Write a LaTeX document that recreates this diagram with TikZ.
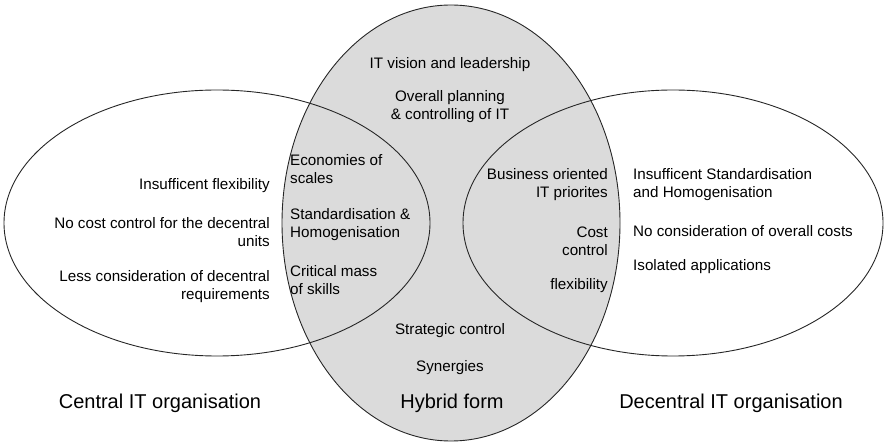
\documentclass[tikz,border=0pt]{standalone}
\usepackage{fontspec}
\setmainfont{Liberation Sans}
\begin{document}
\begin{tikzpicture}[x=1pt,y=-1pt,
  txt/.style={inner sep=0pt,font=\fontsize{15.2}{18}\selectfont},
  big/.style={inner sep=0pt,font=\fontsize{20}{24}\selectfont},
  outline/.style={draw=black!85,line width=0.9pt}]
\useasboundingbox (0,0) rectangle (886,443);
\fill[gray!28] (451,223) ellipse [x radius=169, y radius=218];
\draw[outline] (217,223) ellipse [x radius=213, y radius=133];
\draw[outline] (673,223) ellipse [x radius=210, y radius=133];
\draw[outline] (451,223) ellipse [x radius=169, y radius=218];

\node[txt] (vis) at (450,65) {IT vision and leadership};
\node[txt,align=center] (plan) at (450,107) {Overall planning\\\& controlling of IT};
\node[txt,anchor=west,align=left] (eco) at (290,169) {Economies of\\scales};
\node[txt,anchor=west,align=left] (std) at (290,225) {Standardisation \&\\Homogenisation};
\node[txt,anchor=west,align=left] (crit) at (290,280) {Critical mass\\of skills};
\node[txt,anchor=east,align=right] (flexl) at (270,186) {Insufficent flexibility};
\node[txt,anchor=east,align=right] (cost) at (270,232) {No cost control for the decentral\\units};
\node[txt,anchor=east,align=right] (less) at (270,287) {Less consideration of decentral\\requirements};
\node[txt] (strat) at (450,331) {Strategic control};
\node[txt] (syn) at (450,368) {Synergies};
\node[big] (cen) at (160,403) {Central IT organisation};
\node[big] (hyb) at (452,403) {Hybrid form};
\node[big] (dec) at (731,403) {Decentral IT organisation};
\node[txt,anchor=east,align=right] (bus) at (608,185) {Business oriented\\IT priorites};
\node[txt,anchor=east,align=right] (cc) at (608,241) {Cost\\control};
\node[txt,anchor=east,align=right] (flexr) at (608,286) {flexibility};
\node[txt,anchor=west,align=left] (ins) at (633,185) {Insufficent Standardisation\\and Homogenisation};
\node[txt,anchor=west,align=left] (nocon) at (633,231) {No consideration of overall costs};
\node[txt,anchor=west,align=left] (iso) at (633,267) {Isolated applications};
\end{tikzpicture}
\end{document}
